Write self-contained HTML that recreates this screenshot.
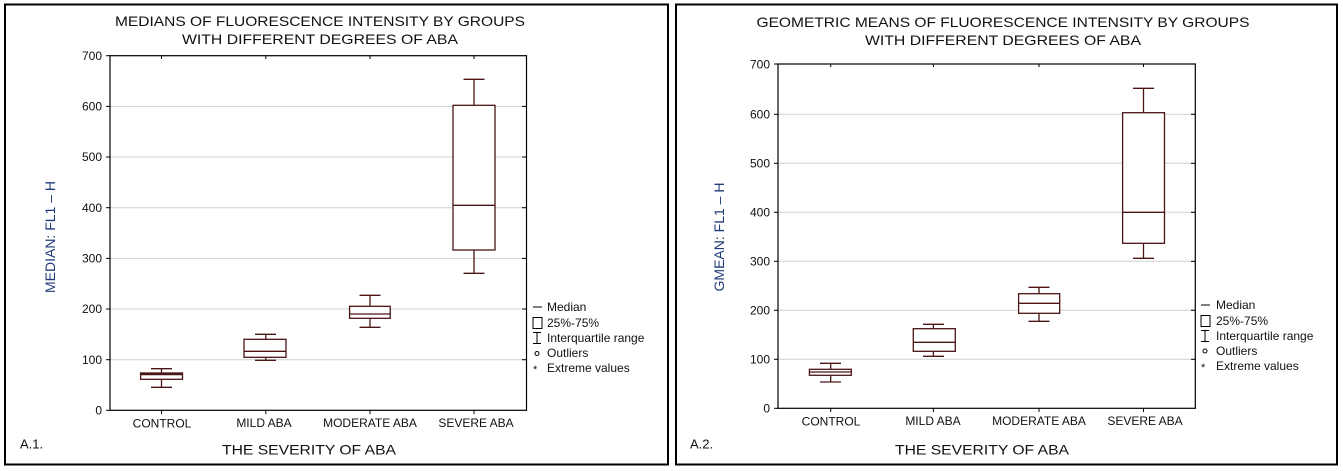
<!DOCTYPE html>
<html><head><meta charset="utf-8"><style>
html,body{margin:0;padding:0;background:#fff;}
svg{display:block;font-family:"Liberation Sans",Arial,sans-serif;}
</style></head><body>
<svg width="1343" height="471" viewBox="0 0 1343 471" xmlns="http://www.w3.org/2000/svg">
<rect x="0" y="0" width="1343" height="471" fill="#fff"/>
<!-- LEFT PANEL -->
<rect x="5" y="4.5" width="663" height="460" fill="none" stroke="#000" stroke-width="2"/>
<g fill="#111" font-size="14" text-anchor="middle">
<text x="320" y="26" textLength="410" lengthAdjust="spacingAndGlyphs">MEDIANS OF FLUORESCENCE INTENSITY BY GROUPS</text>
<text x="320" y="44" textLength="276" lengthAdjust="spacingAndGlyphs">WITH DIFFERENT DEGREES OF ABA</text>
</g>
<g stroke="#d0d0d0" stroke-width="1">
<line x1="110" x2="526" y1="359.7" y2="359.7"/><line x1="110" x2="526" y1="309" y2="309"/>
<line x1="110" x2="526" y1="258.4" y2="258.4"/><line x1="110" x2="526" y1="207.7" y2="207.7"/>
<line x1="110" x2="526" y1="157" y2="157"/><line x1="110" x2="526" y1="106.4" y2="106.4"/>
</g>
<rect x="110" y="55.7" width="416.5" height="354.6" fill="none" stroke="#000" stroke-width="1.2"/>
<g stroke="#000" stroke-width="1">
<line x1="106" x2="110" y1="410.3" y2="410.3"/><line x1="106" x2="110" y1="359.7" y2="359.7"/><line x1="106" x2="110" y1="309" y2="309"/><line x1="106" x2="110" y1="258.4" y2="258.4"/><line x1="106" x2="110" y1="207.7" y2="207.7"/><line x1="106" x2="110" y1="157" y2="157"/><line x1="106" x2="110" y1="106.4" y2="106.4"/><line x1="106" x2="110" y1="55.7" y2="55.7"/>
<line x1="522" x2="526" y1="359.7" y2="359.7"/><line x1="522" x2="526" y1="309" y2="309"/><line x1="522" x2="526" y1="258.4" y2="258.4"/><line x1="522" x2="526" y1="207.7" y2="207.7"/><line x1="522" x2="526" y1="157" y2="157"/><line x1="522" x2="526" y1="106.4" y2="106.4"/>
<line x1="161.5" x2="161.5" y1="410" y2="414"/><line x1="265.8" x2="265.8" y1="410" y2="414"/><line x1="370" x2="370" y1="410" y2="414"/><line x1="474" x2="474" y1="410" y2="414"/>
<line x1="161.5" x2="161.5" y1="56" y2="59"/><line x1="265.8" x2="265.8" y1="56" y2="59"/><line x1="370" x2="370" y1="56" y2="59"/><line x1="474" x2="474" y1="56" y2="59"/>
</g>
<g fill="#111" font-size="12" text-anchor="end">
<text x="102" y="414.5">0</text><text x="102" y="364">100</text><text x="102" y="313">200</text><text x="102" y="262.5">300</text><text x="102" y="212">400</text><text x="102" y="161">500</text><text x="102" y="110.5">600</text><text x="102" y="60">700</text>
</g>
<g stroke="#4a1515" stroke-width="1.3" fill="none">
<line x1="161.5" x2="161.5" y1="368.7" y2="387.3"/><line x1="151" x2="172" y1="368.7" y2="368.7"/><line x1="151" x2="172" y1="387.3" y2="387.3"/>
<rect x="140.6" y="373" width="41.9" height="6.3" fill="#fff"/><line x1="140.6" x2="182.5" y1="374.3" y2="374.3" stroke-width="2"/>
<line x1="265.8" x2="265.8" y1="334.3" y2="360.3"/><line x1="255" x2="276" y1="334.3" y2="334.3"/><line x1="255" x2="276" y1="360.3" y2="360.3"/>
<rect x="244" y="339.3" width="42" height="18" fill="#fff"/><line x1="244" x2="286" y1="351.3" y2="351.3"/>
<line x1="370" x2="370" y1="295.3" y2="327.3"/><line x1="359.5" x2="380.5" y1="295.3" y2="295.3"/><line x1="359.5" x2="380.5" y1="327.3" y2="327.3"/>
<rect x="349.6" y="306.3" width="40.6" height="12" fill="#fff"/><line x1="349.6" x2="390.2" y1="314" y2="314"/>
<line x1="474" x2="474" y1="79.3" y2="273.3"/><line x1="463.5" x2="484.5" y1="79.3" y2="79.3"/><line x1="463.5" x2="484.5" y1="273.3" y2="273.3"/>
<rect x="453" y="105.3" width="42" height="144.7" fill="#fff"/><line x1="453" x2="495" y1="205.3" y2="205.3"/>
</g>
<g fill="#111" font-size="12" text-anchor="middle">
<text x="162" y="427.5">CONTROL</text><text x="264" y="427">MILD ABA</text><text x="370" y="427">MODERATE ABA</text><text x="476" y="427">SEVERE ABA</text>
</g>
<text x="309" y="454.5" font-size="14" fill="#111" text-anchor="middle" textLength="174" lengthAdjust="spacingAndGlyphs">THE SEVERITY OF ABA</text>
<text x="20" y="448.5" font-size="13" fill="#111">A.1.</text>
<text transform="translate(55,237) rotate(-90)" font-size="14" fill="#1f3a78" text-anchor="middle">MEDIAN: FL1 – H</text>
<g fill="#111" font-size="12">
<line x1="533" x2="542" y1="307" y2="307" stroke="#000"/><text x="547" y="311">Median</text>
<rect x="533" y="317.5" width="9" height="11" fill="none" stroke="#000"/><text x="547" y="327">25%-75%</text>
<path d="M533 332.5h8M537 332.5v11M533 343.5h8" stroke="#000" fill="none"/><text x="547" y="342">Interquartile range</text>
<circle cx="537" cy="353.5" r="2" fill="none" stroke="#000"/><text x="547" y="357">Outliers</text>
<text x="533" y="373" font-size="11">*</text><text x="547" y="372">Extreme values</text>
</g>

<!-- RIGHT PANEL -->
<rect x="676" y="4.5" width="661" height="460" fill="none" stroke="#000" stroke-width="2"/>
<g fill="#111" font-size="14" text-anchor="middle">
<text x="1003" y="27" textLength="493" lengthAdjust="spacingAndGlyphs">GEOMETRIC MEANS OF FLUORESCENCE INTENSITY BY GROUPS</text>
<text x="1003" y="45" textLength="276" lengthAdjust="spacingAndGlyphs">WITH DIFFERENT DEGREES OF ABA</text>
</g>
<g stroke="#d0d0d0" stroke-width="1">
<line x1="778" x2="1195" y1="359.3" y2="359.3"/><line x1="778" x2="1195" y1="310.3" y2="310.3"/>
<line x1="778" x2="1195" y1="261.3" y2="261.3"/><line x1="778" x2="1195" y1="212.3" y2="212.3"/>
<line x1="778" x2="1195" y1="163.3" y2="163.3"/><line x1="778" x2="1195" y1="114.3" y2="114.3"/>
</g>
<rect x="778" y="64" width="417.3" height="344.3" fill="none" stroke="#000" stroke-width="1.2"/>
<g stroke="#000" stroke-width="1">
<line x1="774" x2="778" y1="408.3" y2="408.3"/><line x1="774" x2="778" y1="359.3" y2="359.3"/><line x1="774" x2="778" y1="310.3" y2="310.3"/><line x1="774" x2="778" y1="261.3" y2="261.3"/><line x1="774" x2="778" y1="212.3" y2="212.3"/><line x1="774" x2="778" y1="163.3" y2="163.3"/><line x1="774" x2="778" y1="114.3" y2="114.3"/><line x1="774" x2="778" y1="64" y2="64"/>
<line x1="1191" x2="1195" y1="359.3" y2="359.3"/><line x1="1191" x2="1195" y1="310.3" y2="310.3"/><line x1="1191" x2="1195" y1="261.3" y2="261.3"/><line x1="1191" x2="1195" y1="212.3" y2="212.3"/><line x1="1191" x2="1195" y1="163.3" y2="163.3"/><line x1="1191" x2="1195" y1="114.3" y2="114.3"/>
<line x1="830.7" x2="830.7" y1="408" y2="412"/><line x1="933.4" x2="933.4" y1="408" y2="412"/><line x1="1039" x2="1039" y1="408" y2="412"/><line x1="1143.5" x2="1143.5" y1="408" y2="412"/>
<line x1="830.7" x2="830.7" y1="64" y2="67"/><line x1="933.4" x2="933.4" y1="64" y2="67"/><line x1="1039" x2="1039" y1="64" y2="67"/><line x1="1143.5" x2="1143.5" y1="64" y2="67"/>
</g>
<g fill="#111" font-size="12" text-anchor="end">
<text x="770" y="412.5">0</text><text x="770" y="363.5">100</text><text x="770" y="314.5">200</text><text x="770" y="265.5">300</text><text x="770" y="216.5">400</text><text x="770" y="167.5">500</text><text x="770" y="118.5">600</text><text x="770" y="68.5">700</text>
</g>
<g stroke="#4a1515" stroke-width="1.3" fill="none">
<line x1="830.7" x2="830.7" y1="363.3" y2="382"/><line x1="820" x2="841" y1="363.3" y2="363.3"/><line x1="820" x2="841" y1="382" y2="382"/>
<rect x="809.4" y="369.3" width="41.9" height="6" fill="#fff"/><line x1="809.4" x2="851.3" y1="372" y2="372"/>
<line x1="933.4" x2="933.4" y1="324.3" y2="356.3"/><line x1="923" x2="944" y1="324.3" y2="324.3"/><line x1="923" x2="944" y1="356.3" y2="356.3"/>
<rect x="913.3" y="328.7" width="42" height="22.6" fill="#fff"/><line x1="913.3" x2="955.3" y1="342.3" y2="342.3"/>
<line x1="1039" x2="1039" y1="287.3" y2="321.3"/><line x1="1028.5" x2="1049.5" y1="287.3" y2="287.3"/><line x1="1028.5" x2="1049.5" y1="321.3" y2="321.3"/>
<rect x="1018.6" y="293.7" width="41.1" height="19.6" fill="#fff"/><line x1="1018.6" x2="1059.7" y1="303.3" y2="303.3"/>
<line x1="1143.5" x2="1143.5" y1="88.3" y2="258.3"/><line x1="1133" x2="1154" y1="88.3" y2="88.3"/><line x1="1133" x2="1154" y1="258.3" y2="258.3"/>
<rect x="1122.6" y="112.7" width="41.9" height="130.6" fill="#fff"/><line x1="1122.6" x2="1164.5" y1="212.3" y2="212.3"/>
</g>
<g fill="#111" font-size="12" text-anchor="middle">
<text x="831" y="425.5">CONTROL</text><text x="933" y="425">MILD ABA</text><text x="1039" y="425">MODERATE ABA</text><text x="1145" y="425">SEVERE ABA</text>
</g>
<text x="982" y="454.5" font-size="14" fill="#111" text-anchor="middle" textLength="174" lengthAdjust="spacingAndGlyphs">THE SEVERITY OF ABA</text>
<text x="690" y="448.5" font-size="13" fill="#111">A.2.</text>
<text transform="translate(724,237) rotate(-90)" font-size="14" fill="#1f3a78" text-anchor="middle">GMEAN: FL1 – H</text>
<g fill="#111" font-size="12">
<line x1="1201" x2="1210" y1="305" y2="305" stroke="#000"/><text x="1216" y="309">Median</text>
<rect x="1201" y="315.5" width="9" height="11" fill="none" stroke="#000"/><text x="1216" y="325">25%-75%</text>
<path d="M1201 330.5h8M1205 330.5v11M1201 341.5h8" stroke="#000" fill="none"/><text x="1216" y="340">Interquartile range</text>
<circle cx="1205" cy="351" r="2" fill="none" stroke="#000"/><text x="1216" y="355">Outliers</text>
<text x="1201" y="371" font-size="11">*</text><text x="1216" y="370">Extreme values</text>
</g>
</svg>
</body></html>
